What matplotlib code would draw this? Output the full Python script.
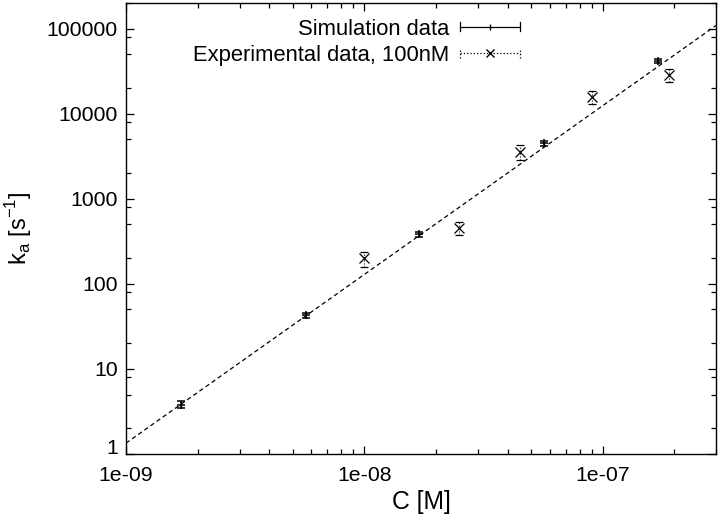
import numpy as np
import matplotlib
matplotlib.use("Agg")
import matplotlib.pyplot as plt
from matplotlib.lines import Line2D
from matplotlib.legend_handler import HandlerBase
from matplotlib.ticker import FixedLocator, FixedFormatter, NullFormatter, LogLocator

plt.rcParams['font.family'] = ['Liberation Sans', 'DejaVu Sans']
plt.rcParams['mathtext.fontset'] = 'custom'
plt.rcParams['mathtext.rm'] = 'Liberation Sans'

# simulation data
c_sim = [1.7e-9, 5.7e-9, 1.7e-8, 5.7e-8, 1.7e-7]
k_sim = [3.8, 43, 385, 4500, 42000]
e_sim = [0.35, 3, 25, 300, 2500]

# experimental data, 100nM
c_exp = [1.0e-8, 2.5e-8, 4.5e-8, 9.0e-8, 1.9e-7]
k_exp = [200, 460, 3600, 15800, 28500]
e_exp = [40, 80, 700, 2800, 5000]

# fitted line (straight in log-log), end points
c_fit = [1e-9, 3e-7]
k_fit = [1.34, 1.1e5]

xticks = [1e-9, 1e-8, 1e-7]
xlabels = ["1e-09", "1e-08", "1e-07"]
yticks = [1, 10, 100, 1000, 10000, 100000]
ylabels = ["1", "10", "100", "1000", "10000", "100000"]


class GnuKey(HandlerBase):
    """ gnuplot style key sample: line with end caps and a mark in the middle """
    def __init__(self, ls, mark, ms):
        HandlerBase.__init__(self)
        self.ls = ls
        self.mark = mark
        self.ms = ms

    def create_artists(self, legend, orig_handle, xdescent, ydescent,
                       width, height, fontsize, trans):
        y = height/2.0 - ydescent
        x0 = -xdescent
        x1 = width - xdescent
        h = height*0.3
        arts = [Line2D([x0, x1], [y, y], ls=self.ls, color="k", lw=0.9),
                Line2D([x0, x0], [y-h, y+h], ls=self.ls, color="k", lw=0.9),
                Line2D([x1, x1], [y-h, y+h], ls=self.ls, color="k", lw=0.9),
                Line2D([(x0+x1)/2.0], [y], marker=self.mark, ms=self.ms,
                       color="k", mew=1.0, ls="none")]
        for a in arts:
            a.set_transform(trans)
        return arts


fig = plt.figure(figsize=(7.2, 5.23), dpi=100)
ax = fig.add_axes([0.175, 0.132, 0.820, 0.862])

ax.plot(c_fit, k_fit, color="k", ls=(0, (3.5, 2.5)), lw=0.9)

s = ax.errorbar(c_sim, k_sim, yerr=e_sim, fmt="+", color="k", ms=6, mew=1.1,
                elinewidth=0.9, capsize=3, capthick=0.9)
e = ax.errorbar(c_exp, k_exp, yerr=e_exp, fmt="x", color="k", ms=6.5, mew=0.9,
                elinewidth=0.8, capsize=3, capthick=0.6)
e[2][0].set_linestyle(":")

ax.set_xscale("log")
ax.set_yscale("log")
ax.set_xlim(1e-9, 3e-7)
ax.set_ylim(1, 2e5)

ax.xaxis.set_major_locator(FixedLocator(xticks))
ax.xaxis.set_major_formatter(FixedFormatter(xlabels))
ax.xaxis.set_minor_locator(LogLocator(base=10, subs=np.arange(2, 10)))
ax.xaxis.set_minor_formatter(NullFormatter())
ax.yaxis.set_major_locator(FixedLocator(yticks))
ax.yaxis.set_major_formatter(FixedFormatter(ylabels))
ax.yaxis.set_minor_locator(LogLocator(base=10, subs=[2, 5, 8]))
ax.yaxis.set_minor_formatter(NullFormatter())

ax.tick_params(which="both", direction="in", top=True, right=True, width=0.9)
ax.tick_params(which="major", length=6, labelsize=15.3)
ax.tick_params(axis="x", which="major", pad=9)
ax.tick_params(axis="y", which="major", pad=6)
ax.tick_params(which="minor", length=3.5)
for sp in ax.spines.values():
    sp.set_linewidth(1.0)

# the "1" sits above the corner, as in gnuplot
fig.canvas.draw()
ax.get_yticklabels()[0].set_va("baseline")

ax.set_xlabel("C [M]", fontsize=17.8)
ax.set_ylabel(r"k$_\mathregular{a}$ [s$^\mathregular{-1}$]", fontsize=17)
ax.xaxis.set_label_coords(0.5, -0.08)
ax.yaxis.set_label_coords(-0.155, 0.5)

ax.legend([s, e], ["Simulation data", "Experimental data, 100nM"],
          handler_map={s: GnuKey("-", "|", 5), e: GnuKey(":", "x", 6)},
          loc="upper right", bbox_to_anchor=(0.689, 0.995), frameon=False,
          markerfirst=False, fontsize=15.8, handlelength=2.7, handletextpad=0.5,
          labelspacing=0.25, borderaxespad=0.2)

fig.savefig("out.png", dpi=100)
